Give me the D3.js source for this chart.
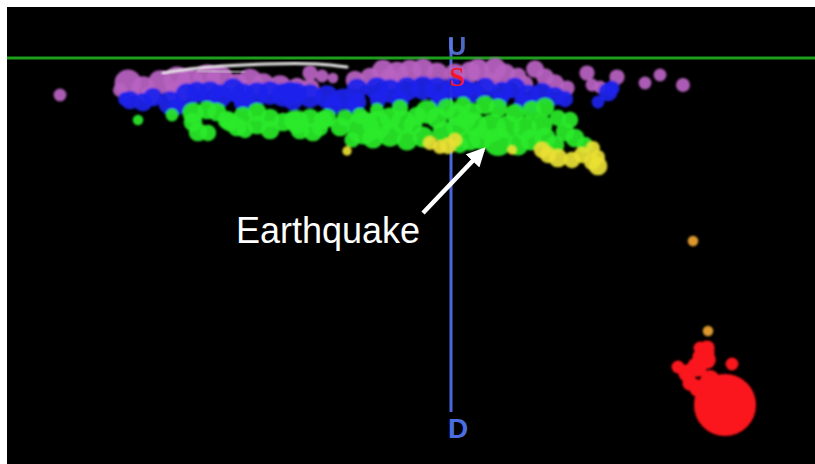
<!DOCTYPE html>
<html>
<head>
<meta charset="utf-8">
<script src="https://cdn.jsdelivr.net/npm/d3@7"></script>
<style>
  html, body { margin: 0; padding: 0; background: #ffffff; }
  svg { display: block; }
</style>
</head>
<body>
<svg id="chart" width="815" height="464"></svg>
<script>
// ---- DATA: [distance along section (km), depth (km), magnitude] ----
const purpleQuakes = [
  [-39.1,3.7,1.1],[-33.1,3.2,1.2],[-32.3,2.5,2.3],[-30.8,3.0,2.0],[-29.1,2.4,2.0],[-30.1,3.7,1.6],
  [-27.4,2.2,2.3],[-26.1,2.4,2.3],[-24.4,2.0,2.3],[-23.1,2.1,2.3],[-27.4,3.4,2.0],[-21.4,2.6,1.8],
  [-20.1,2.3,2.1],[-18.8,2.7,2.0],[-17.1,2.9,2.0],[-14.1,1.5,1.3],[-12.9,1.8,1.1],[-11.8,2.0,0.9],
  [-15.4,2.9,1.6],[-14.1,3.0,1.6],[-9.6,2.2,1.6],[-8.1,1.9,1.6],[-6.8,1.3,1.9],[-5.4,1.5,1.9],
  [-4.1,1.3,1.9],[-2.8,1.1,1.8],[-1.4,1.5,1.8],[-6.1,2.1,1.8],[0.4,1.6,1.8],[1.9,1.4,1.8],
  [2.7,1.2,1.9],[4.4,1.1,1.9],[5.4,1.6,1.8],[3.9,2.4,1.6],[6.7,1.8,1.4],[7.4,2.6,1.4],
  [8.4,1.1,1.5],[9.4,1.9,1.5],[10.4,2.5,1.5],[11.6,3.0,1.3],[13.6,1.5,1.3],[14.1,2.7,1.1],
  [14.9,2.9,1.1],[16.6,1.9,1.3],[19.4,2.5,1.1],[20.9,1.7,1.1],[23.2,2.7,1.2]
];
const blueQuakes = [
  [-32.6,4.1,1.2],[-32.1,4.2,1.6],[-30.8,4.4,1.6],[-29.8,3.9,1.6],[-28.1,4.5,2.0],[-27.4,4.9,1.4],
  [-26.4,3.7,2.0],[-25.4,3.4,1.8],[-24.1,3.5,2.0],[-23.1,3.8,2.0],[-21.8,3.2,2.0],[-20.8,3.7,2.0],
  [-20.8,4.4,1.6],[-19.4,3.6,2.0],[-18.1,3.5,2.0],[-16.8,3.7,2.0],[-16.1,3.4,1.8],[-15.4,3.5,1.8],
  [-15.8,4.3,1.6],[-14.1,3.8,2.0],[-12.4,3.9,2.0],[-11.8,4.7,1.6],[-10.8,4.1,1.8],[-9.4,4.4,1.6],
  [-9.8,4.7,1.4],[-9.4,3.1,1.8],[-7.4,3.1,2.0],[-7.3,4.2,1.4],[-6.1,3.3,2.0],[-5.1,4.2,1.6],
  [-4.4,3.1,2.0],[-2.8,3.0,2.0],[-1.4,3.1,2.0],[-1.1,4.2,1.6],[0.2,3.0,1.8],[1.2,3.1,1.8],
  [2.1,3.4,1.8],[3.4,3.0,1.8],[4.9,4.2,1.4],[5.1,3.4,1.8],[6.4,3.0,1.8],[7.7,3.7,1.8],
  [7.1,4.5,1.4],[8.1,4.7,1.4],[9.1,3.5,1.8],[10.4,3.8,1.6],[11.4,4.1,1.4],[15.7,3.4,1.6],
  [14.7,4.4,1.1],[16.1,3.0,1.3]
];
const greenQuakes = [
  [-31.3,6.2,0.9],[-27.9,5.7,1.1],[-25.8,5.5,1.8],[-24.4,5.2,1.6],[-23.4,5.4,1.6],[-25.3,7.4,1.6],
  [-24.3,7.5,1.4],[-25.8,6.4,1.6],[-22.1,6.4,1.6],[-22.4,6.2,1.6],[-20.8,5.8,1.6],[-19.4,5.4,1.6],
  [-18.1,6.0,1.6],[-16.8,6.4,1.6],[-19.4,6.7,1.6],[-21.4,6.9,1.6],[-15.8,6.2,1.6],[-15.4,6.4,2.0],
  [-14.1,6.0,1.6],[-12.8,6.2,1.6],[-13.8,7.4,1.6],[-12.4,6.0,1.6],[-11.1,6.9,1.6],[-10.6,6.0,1.4],
  [-9.9,8.2,1.3],[-8.8,7.0,2.8],[-7.4,6.7,2.4],[-7.4,5.2,1.2],[-7.8,8.0,1.8],[-6.1,6.0,1.8],
  [-6.1,7.7,2.0],[-4.8,6.4,2.0],[-4.4,8.2,1.8],[-3.8,6.7,1.6],[-2.8,7.9,1.8],[-2.4,5.4,2.0],
  [-1.4,6.0,1.8],[-0.8,7.4,1.8],[-0.4,5.0,1.6],[0.6,5.7,1.8],[0.6,6.9,1.8],[0.9,8.7,1.4],
  [1.2,4.7,1.4],[1.9,8.2,1.8],[2.1,5.4,1.6],[2.4,6.7,2.0],[3.4,4.7,1.6],[4.1,7.0,2.4],
  [4.7,5.0,1.6],[4.7,8.4,2.4],[5.7,6.9,2.0],[6.4,5.5,1.6],[6.7,8.7,1.8],[7.4,7.0,2.0],
  [8.1,5.2,1.6],[9.1,6.7,1.8],[9.4,4.9,1.6],[9.4,8.0,1.8],[10.4,8.7,1.6],[10.7,6.0,1.4],
  [11.4,7.4,1.6],[12.4,8.0,1.6],[13.4,8.7,1.4],
  [-15.1,7.2,1.6],[-18.1,7.2,1.6],[-20.6,7.2,1.4],[-13.1,7.0,1.4],[-9.1,5.8,1.4],[-5.1,5.0,1.4],
  [3.0,8.0,2.0],[8.0,8.2,1.8],[11.9,6.2,1.4],[-3.4,5.8,1.6],[1.5,6.2,1.6]
];
const yellowQuakes = [
  [-10.4,9.3,0.8],[-2.1,8.5,1.2],[-1.1,8.9,1.2],[-0.3,8.8,1.4],[0.4,8.2,1.2],[6.1,9.2,0.8],
  [9.1,9.2,1.4],[9.7,9.7,1.4],[10.7,10.0,1.6],[12.1,10.2,1.4],[13.1,9.7,1.4],[14.2,9.0,1.2],
  [14.1,10.4,1.4],[14.7,9.9,1.2],[14.7,10.8,1.6]
];
const orangeQuakes = [[24.2,18.3,0.9],[25.7,27.3,0.9]];
const redQuakes = [
  [24.9,29.0,1.1],[25.6,29.0,1.3],[25.6,29.5,1.3],[24.9,29.9,1.3],[25.6,30.2,1.5],[22.7,30.9,1.1],
  [24.6,30.9,1.7],[23.6,31.5,1.5],[28.1,30.6,1.1],[25.9,32.2,1.7],[23.9,32.5,1.3],[24.7,33.0,1.5],
  [27.4,34.7,5.3]
];
// fault traces near the surface: [distance, depth]
const whiteTrace = [[-28.8,1.5],[-25.1,1.0],[-18.4,0.6],[-13.4,0.6],[-10.4,0.9]];
const whiteTrace2 = [[-25.4,1.3],[-20.6,1.4]];
const cyanTrace = [[-28.8,1.4],[-25.4,1.4]];
const axisTop = -2.0, axisBottom = 35.4;   // extent of the U–D axis (depth)
const labels = {up: "U", strike: "S", down: "D", note: "Earthquake"};

// ---- DRAWING ----
const svg = d3.select("#chart");
const W = 815, H = 464;
const x = d3.scaleLinear().domain([-44.4, 36.4]).range([7, 815]);
const y = d3.scaleLinear().domain([0, 40.4]).range([58, 462]);
const r = d3.scaleLinear().domain([0, 7]).range([0, 41]);

svg.append("rect").attr("x", 7).attr("y", 7).attr("width", W - 7).attr("height", H - 7).attr("fill", "#000");

const defs = svg.append("defs");
defs.append("filter").attr("id", "soft").attr("x", "-20%").attr("y", "-20%").attr("width", "140%").attr("height", "140%")
  .append("feGaussianBlur").attr("stdDeviation", 1.0);
const arrowM = defs.append("marker").attr("id", "arrow").attr("viewBox", "0 0 10 10")
  .attr("refX", 8).attr("refY", 5).attr("markerWidth", 4.2).attr("markerHeight", 4.2)
  .attr("orient", "auto").attr("markerUnits", "strokeWidth");
arrowM.append("path").attr("d", "M0,0 L10,5 L0,10 Z").attr("fill", "#fff");

// U–D axis
svg.append("line")
  .attr("x1", x(0)).attr("x2", x(0)).attr("y1", y(axisTop)).attr("y2", y(axisBottom))
  .attr("stroke", "#4a66dc").attr("stroke-width", 3);
svg.append("text").attr("x", x(0) + 6).attr("y", y(-0.3))
  .attr("text-anchor", "middle").attr("font-family", "Liberation Sans, Arial, sans-serif")
  .attr("font-weight", "bold").attr("font-size", 26).attr("fill", "#5b7ae6").attr("opacity", 0.85)
  .text(labels.up);

// surface line
svg.append("line").attr("x1", 7).attr("x2", W).attr("y1", y(0)).attr("y2", y(0))
  .attr("stroke", "#1c9e1c").attr("stroke-width", 3);

const groups = [
  {data: purpleQuakes, color: "#b862c2", op: 0.93},
  {data: blueQuakes, color: "#1c24ec", op: 0.93},
  {data: greenQuakes, color: "#2aea2a", op: 0.93},
  {data: yellowQuakes, color: "#e8e034", op: 0.93},
  {data: orangeQuakes, color: "#e8a02e", op: 0.95},
  {data: redQuakes, color: "#fa141e", op: 1}
];
const dots = svg.append("g").attr("filter", "url(#soft)");
groups.forEach(g => {
  dots.append("g").selectAll("circle").data(g.data).join("circle")
    .attr("cx", d => x(d[0])).attr("cy", d => y(d[1])).attr("r", d => r(d[2]))
    .attr("fill", g.color).attr("fill-opacity", g.op);
});

const line = d3.line().x(d => x(d[0])).y(d => y(d[1])).curve(d3.curveCatmullRom);
svg.append("path").attr("d", line(whiteTrace)).attr("fill", "none")
  .attr("stroke", "#e8e8e8").attr("stroke-width", 3).attr("stroke-linecap", "round").attr("filter", "url(#soft)");
svg.append("path").attr("d", line(whiteTrace2)).attr("fill", "none")
  .attr("stroke", "#cfcfcf").attr("stroke-width", 1.5).attr("filter", "url(#soft)");
svg.append("path").attr("d", line(cyanTrace)).attr("fill", "none")
  .attr("stroke", "#38c8dc").attr("stroke-width", 4).attr("filter", "url(#soft)");

// S and D labels
svg.append("text").attr("x", x(0) + 6).attr("y", y(2.8))
  .attr("text-anchor", "middle").attr("font-family", "Liberation Serif, Times New Roman, serif")
  .attr("font-weight", "bold").attr("font-size", 28).attr("fill", "#f01830")
  .text(labels.strike);
svg.append("text").attr("x", x(0) + 7).attr("y", y(axisBottom + 2.6))
  .attr("text-anchor", "middle").attr("font-family", "Liberation Sans, Arial, sans-serif")
  .attr("font-weight", "bold").attr("font-size", 28).attr("fill", "#4a6ee2")
  .text(labels.down);

// annotation
svg.append("text").attr("x", x(-21.5)).attr("y", y(18.5))
  .attr("font-family", "Liberation Sans, Arial, sans-serif").attr("font-size", 36).attr("fill", "#fff")
  .text(labels.note);
svg.append("line")
  .attr("x1", x(-2.8)).attr("y1", y(15.5)).attr("x2", x(3.2)).attr("y2", y(9.2))
  .attr("stroke", "#fff").attr("stroke-width", 4.5).attr("marker-end", "url(#arrow)");
</script>
</body>
</html>
